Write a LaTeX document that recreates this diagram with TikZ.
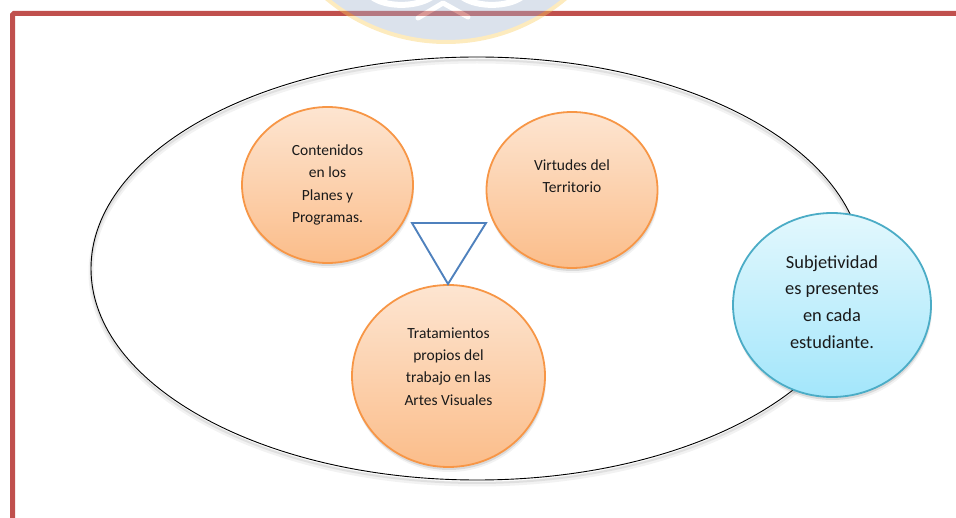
\documentclass[tikz,border=0pt]{standalone}
\usepackage{fontspec}
\setmainfont{Carlito}
\usetikzlibrary{shapes.geometric,shadows}

\definecolor{framered}{HTML}{C0504D}
\definecolor{orangeline}{HTML}{F79646}
\definecolor{orangetop}{HTML}{FDE5D1}
\definecolor{orangebot}{HTML}{FBBD8A}
\definecolor{blueline}{HTML}{4BACC6}
\definecolor{bluetop}{HTML}{E3F8FD}
\definecolor{bluebot}{HTML}{A3E6FB}
\definecolor{triblue}{HTML}{4F81BD}
\definecolor{sealfill}{HTML}{A5B6CF}
\definecolor{sealrim}{HTML}{FACD5D}
\definecolor{ink}{HTML}{1A1A1A}

\begin{document}
\begin{tikzpicture}[x=1pt,y=-1pt,
  bubble/.style={ellipse, inner sep=0pt, line width=1.8pt,
    general shadow={shadow yshift=-5pt, shadow xshift=1pt, fill=black, opacity=0.05},
    general shadow={shadow yshift=-3pt, shadow xshift=0.5pt, fill=black, opacity=0.10}},
  orangebubble/.style={bubble, draw=orangeline, top color=orangetop, bottom color=orangebot},
  bluebubble/.style={bubble, draw=blueline, top color=bluetop, bottom color=bluebot},
  oval/.style={ellipse, inner sep=0pt, draw=black, line width=0.9pt,
    general shadow={shadow yshift=-4pt, draw=black, opacity=0.05, line width=5pt},
    general shadow={shadow yshift=-3pt, draw=black, opacity=0.08, line width=2pt}},
  txt/.style={align=center, inner sep=0pt, text=ink, font=\fontsize{15.5pt}{22.3pt}\selectfont},
  bigtxt/.style={txt, font=\fontsize{18.4pt}{26.7pt}\selectfont},
  frame/.style={draw=framered, line width=5pt, rounded corners=1.5pt},
  triangle/.style={draw=triblue, line width=1.9pt, line join=miter},
  sealmark/.style={white, line width=6pt, line cap=round, line join=round}
]
\useasboundingbox (0,0) rectangle (956,518);
\clip (0,0) rectangle (956,518);

% page frame
\draw[frame] (12.5,520) -- (12.5,13.5) -- (960,13.5);

% faint seal in the page header
\begin{scope}[transparency group, opacity=0.4]
  \fill[sealfill] (446,-144) circle[radius=186];
  \draw[sealrim, line width=4pt] (446,-144) circle[radius=186];
  \draw[sealmark] (372,-3) .. controls (385,7) and (415,8) .. (432,-3);
  \draw[sealmark] (462,-3) .. controls (478,8) and (508,7) .. (522,-3);
  \draw[sealmark, line width=5pt] (418,18) -- (443,3) -- (468,17);
\end{scope}

% enclosing oval
\node[oval, minimum width=772pt, minimum height=423pt] (oval) at (477,268.5) {};

% topic bubbles
\node[orangebubble, minimum width=171pt, minimum height=156pt] (planes) at (327.5,185) {};
\node[orangebubble, minimum width=171pt, minimum height=156pt] (territorio) at (572,190) {};
\node[orangebubble, minimum width=193pt, minimum height=182pt] (artes) at (448.5,376) {};
\node[bluebubble, minimum width=198pt, minimum height=184pt] (subjetividad) at (832,305) {};

% triangle linking the three topics
\coordinate (tl) at (412,223);
\coordinate (tr) at (486,223);
\coordinate (tb) at (448,284);
\draw[triangle] (tl) -- (tr) -- (tb) -- cycle;

% bubble texts
\node[txt] (planestxt) at (327.5,185) {Contenidos\\en los\\Planes y\\Programas.};
\node[txt] (territoriotxt) at (572,176.5) {Virtudes del\\Territorio};
\node[txt] (artestxt) at (448.5,366.5) {Tratamientos\\propios del\\trabajo en las\\Artes Visuales};
\node[bigtxt] (subjetividadtxt) at (832,302) {Subjetividad\\es presentes\\en cada\\estudiante.};
\end{tikzpicture}
\end{document}
